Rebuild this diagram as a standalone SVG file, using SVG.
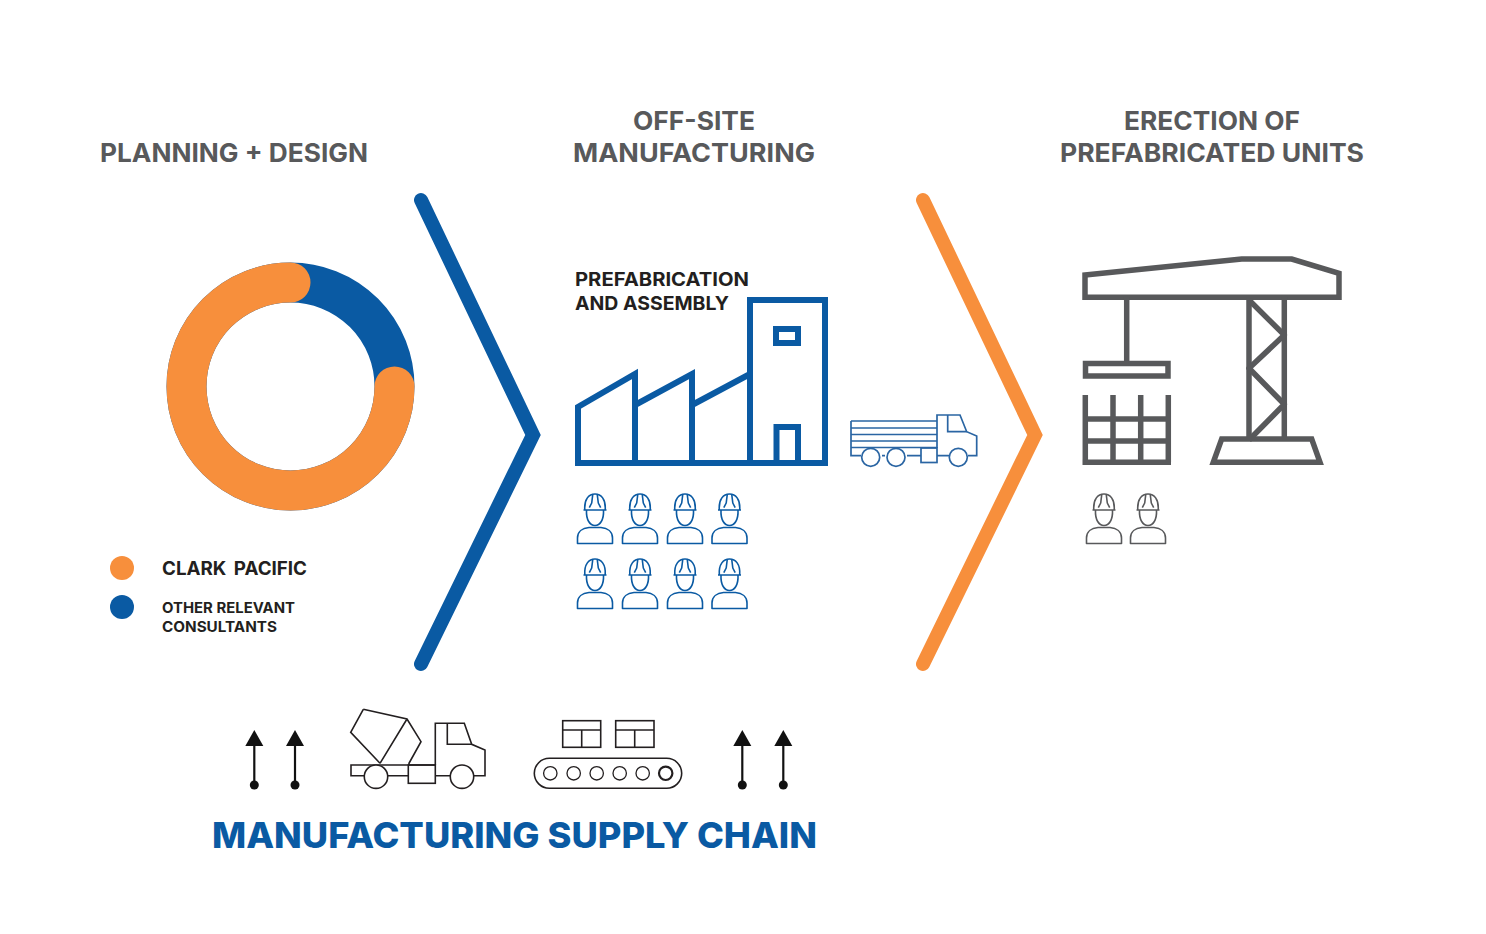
<svg xmlns="http://www.w3.org/2000/svg" xmlns:xlink="http://www.w3.org/1999/xlink" width="1486" height="934" viewBox="0 0 1486 934">
<style>
text{font-family:"Inter","Liberation Sans",sans-serif;font-weight:700}
.title{font-size:26px;fill:#58595b}
.sub{font-size:19px;fill:#231f20}
.small{font-size:14.5px;fill:#231f20}
.big{font-size:36px;font-weight:800;fill:#0a5aa3}
.thin{fill:none;stroke:#231f20;stroke-width:1.6}
.blue{color:#0a5aa3}
.grey{color:#58595b}
.w{fill:none;stroke:currentColor;stroke-width:1.6;stroke-linejoin:round}
.fac{fill:none;stroke:#0a5aa3;stroke-width:6;stroke-linejoin:miter}
.truck{fill:none;stroke:#2a65a3;stroke-width:1.7}
.crane{fill:none;stroke:#58595b;stroke-width:5.5}
.chev{fill:none;stroke-width:14;stroke-linecap:round;stroke-linejoin:miter;stroke-miterlimit:10}
</style>
<defs>
<g id="worker" class="w">
<path d="M583.500 510H606.500M584.800 510C584 499 589 494 595 494C601 494 606 499 605.200 510"/>
<path d="M586.500 510C586 520 590 525.500 595 525.500C600 525.500 604 520 603.500 510"/>
<path d="M592.700 495L591.700 503L589.300 507.700M597.300 495L598.300 503L600.700 507.700"/>
<path d="M577.500 543.500V538C577.500 531.500 582.500 528 589 527.500H601C607.500 528 612.500 531.500 612.500 538V543.500Z"/>
</g>
<g id="arrowUp">
<path d="M0 746V785" fill="none" stroke="#111" stroke-width="2.200"/>
<path d="M0 730L-9 746H9Z" fill="#111"/>
<circle cy="785" r="4.500" fill="#111"/>
</g>
</defs>
<rect width="1486" height="934" fill="#fff"/>
<g id="titles">
<text class="title" x="100" y="162" textLength="268" lengthAdjust="spacingAndGlyphs">PLANNING + DESIGN</text>
<text class="title" x="694" y="130" text-anchor="middle" textLength="122" lengthAdjust="spacingAndGlyphs">OFF-SITE</text>
<text class="title" x="694" y="162" text-anchor="middle" textLength="242" lengthAdjust="spacingAndGlyphs">MANUFACTURING</text>
<text class="title" x="1212" y="130" text-anchor="middle" textLength="176" lengthAdjust="spacingAndGlyphs">ERECTION OF</text>
<text class="title" x="1212" y="162" text-anchor="middle" textLength="304" lengthAdjust="spacingAndGlyphs">PREFABRICATED UNITS</text>
</g>
<g id="connectors">
<path class="chev" stroke="#0a5aa3" d="M421 200L533 435L421 664"/>
<path class="chev" stroke="#f78f3c" d="M923 200L1035 435L923 664"/>
</g>
<g id="donut">
<circle cx="290.500" cy="386.500" r="104" fill="none" stroke="#0a5aa3" stroke-width="40"/>
<path d="M394.500 386.500A104 104 0 1 1 290.500 282.500" fill="none" stroke="#f78f3c" stroke-width="40" stroke-linecap="round"/>
</g>
<g id="legend">
<circle cx="122" cy="568" r="12" fill="#f78f3c"/>
<circle cx="122" cy="607" r="12" fill="#0a5aa3"/>
<text x="162" y="575" font-size="19" fill="#231f20" word-spacing="3" textLength="145" lengthAdjust="spacingAndGlyphs">CLARK PACIFIC</text>
<text class="small" x="162" y="613" textLength="133" lengthAdjust="spacingAndGlyphs">OTHER RELEVANT</text>
<text class="small" x="162" y="632" textLength="115" lengthAdjust="spacingAndGlyphs">CONSULTANTS</text>
</g>
<g id="factory">
<text class="sub" x="575" y="286" textLength="174" lengthAdjust="spacingAndGlyphs">PREFABRICATION</text>
<text class="sub" x="575" y="310" textLength="154" lengthAdjust="spacingAndGlyphs">AND ASSEMBLY</text>
<path class="fac" d="M750 463V300H825V463ZM750 463H578V407L635 374V463M635 405L692 374V463M692 405L750 374"/>
<rect class="fac" x="776" y="329" width="22" height="14"/>
<path class="fac" d="M776.500 463V427H798V463"/>
</g>
<g id="truck" class="truck">
<path d="M851 421H937M851 428H937M851 434.500H937M851 441H937M851 447.500H937"/>
<path d="M861 455.700H851V421M882 455.700H885M907 455.700H921M937 455.700H949M968 455.700H976.700V436L966.700 431.700L960 415H937V448"/>
<path d="M947.700 415V431.700H966.700"/>
<rect x="921" y="448" width="16" height="14.500"/>
<circle cx="870.700" cy="457.300" r="9"/><circle cx="896" cy="457.300" r="9"/><circle cx="958.300" cy="457.300" r="9"/>
</g>
<g id="workers-blue" class="blue">
<use xlink:href="#worker" href="#worker"/>
<use xlink:href="#worker" href="#worker" x="45"/>
<use xlink:href="#worker" href="#worker" x="90"/>
<use xlink:href="#worker" href="#worker" x="134.500"/>
<use xlink:href="#worker" href="#worker" y="65"/>
<use xlink:href="#worker" href="#worker" x="45" y="65"/>
<use xlink:href="#worker" href="#worker" x="90" y="65"/>
<use xlink:href="#worker" href="#worker" x="134.500" y="65"/>
</g>
<g id="crane" class="crane">
<path d="M1085 275L1241.700 259H1291.700L1339 273.300V297.300H1085Z"/>
<path d="M1126.700 297V363"/>
<rect x="1085.500" y="363.500" width="82.500" height="12.500"/>
<path d="M1085.300 395V462.300M1113 395V462.300M1140.700 395V462.300M1168.300 395V462.300M1085.300 419H1168.300M1085.300 441H1168.300M1082.500 462.300H1171"/>
<path d="M1249 297V440M1284.300 297V440"/>
<path stroke-linejoin="round" d="M1249 300L1284.300 335L1249 368.300L1284.300 404.300L1249 440"/>
<path d="M1221.700 439H1311.700L1320 462.300H1213.300Z"/>
</g>
<g id="workers-grey" class="grey">
<use xlink:href="#worker" href="#worker" x="509"/>
<use xlink:href="#worker" href="#worker" x="553"/>
</g>
<g id="supply-arrows">
<use xlink:href="#arrowUp" href="#arrowUp" x="254.300"/>
<use xlink:href="#arrowUp" href="#arrowUp" x="295"/>
<use xlink:href="#arrowUp" href="#arrowUp" x="742.300"/>
<use xlink:href="#arrowUp" href="#arrowUp" x="783.300"/>
</g>
<g id="mixer" class="thin">
<path d="M363.300 709.300L407 719L421 741.700L409 763.300V765M380 763.300L350.700 732.300L363.300 709.300M407 719L380 763.300"/>
<path d="M364.500 775.700H351V765H435.300M387.700 775.700H408.300M435.300 775.700H450.300M473.700 775.700H485V750L471.700 744.300L464.300 723.300H435.300V765"/>
<path d="M447.300 723.300V744.300H471.700"/>
<rect x="408.300" y="765" width="27" height="18.300"/>
<circle cx="376" cy="776.700" r="11.700" fill="#fff"/><circle cx="462" cy="776.700" r="11.700" fill="#fff"/>
</g>
<g id="conveyor" class="thin">
<rect x="562.700" y="720.700" width="38" height="26.600"/>
<path d="M562.700 730H600.700M581.700 730V747.300"/>
<rect x="615.700" y="720.700" width="38.300" height="26.600"/>
<path d="M615.700 730H654M634.700 730V747.300"/>
<rect x="534.300" y="758.300" width="147.400" height="30" rx="15"/>
<g stroke-width="1.300"><circle cx="550.300" cy="773.300" r="6.700"/><circle cx="573.700" cy="773.300" r="6.700"/><circle cx="596.700" cy="773.300" r="6.700"/><circle cx="619.700" cy="773.300" r="6.700"/><circle cx="642.700" cy="773.300" r="6.700"/></g><circle cx="665.700" cy="773.300" r="6.700" stroke-width="2.200"/>
</g>
<g id="supply-title">
<text class="big" x="212" y="848" textLength="605" lengthAdjust="spacingAndGlyphs">MANUFACTURING SUPPLY CHAIN</text>
</g>
</svg>
